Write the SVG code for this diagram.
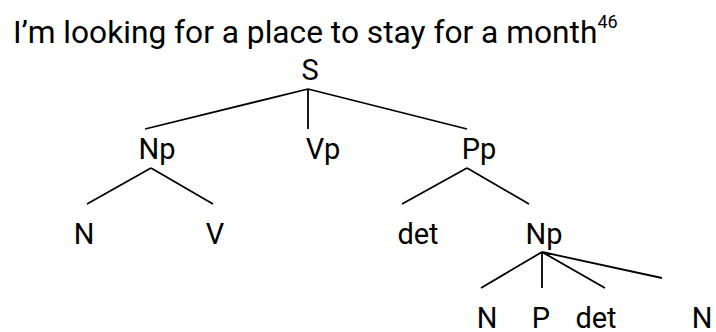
<svg xmlns="http://www.w3.org/2000/svg" width="716" height="332" viewBox="0 0 716 332">
<style>
text{font-family:Roboto,"Liberation Sans",sans-serif;fill:#000}
.t{font-size:31.7px}
.l{font-size:29px;text-anchor:middle}
.e{stroke:#000;stroke-width:1.8;fill:none;stroke-linecap:butt}
</style>
<rect width="716" height="332" fill="#fff"/>
<g id="title"><text class="t" x="13" y="43">I’m looking for a place to stay for a month<tspan font-size="18" dy="-15">46</tspan></text></g>
<g id="connectors">
<path class="e" d="M308 89L145 129M308 89V129M308 89L467 129"/>
<path class="e" d="M151 168L87 204M151 168L213 204"/>
<path class="e" d="M467 168L402 204M467 168L529 204"/>
<path class="e" d="M542 252L481 288M542 252V288M542 252L605 288M542 252L662 278"/>
</g>
<g id="n-S"><text class="l" x="310" y="80">S</text></g>
<g id="n-Np1"><text class="l" x="157" y="159">Np</text></g>
<g id="n-Vp"><text class="l" x="323" y="159">Vp</text></g>
<g id="n-Pp"><text class="l" x="479" y="159">Pp</text></g>
<g id="n-N1"><text class="l" x="84" y="244">N</text></g>
<g id="n-V"><text class="l" x="215" y="244">V</text></g>
<g id="n-det1"><text class="l" x="418" y="244">det</text></g>
<g id="n-Np2"><text class="l" x="544" y="244">Np</text></g>
<g id="n-N2"><text class="l" x="487" y="328">N</text></g>
<g id="n-P"><text class="l" x="541" y="328">P</text></g>
<g id="n-det2"><text class="l" x="596" y="328">det</text></g>
<g id="n-N3"><text class="l" x="702" y="328">N</text></g>
</svg>
